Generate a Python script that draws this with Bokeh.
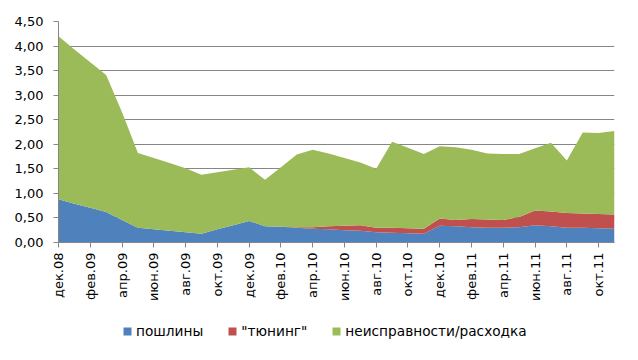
import math
from bokeh.plotting import figure
from bokeh.layouts import column
from bokeh.models import ColumnDataSource, Range1d, FixedTicker, Legend, LegendItem
from bokeh.embed import file_html
from bokeh.resources import INLINE

months = ["дек.08",
          "янв.09", "фев.09", "мар.09", "апр.09", "май.09", "июн.09",
          "июл.09", "авг.09", "сен.09", "окт.09", "ноя.09", "дек.09",
          "янв.10", "фев.10", "мар.10", "апр.10", "май.10", "июн.10",
          "июл.10", "авг.10", "сен.10", "окт.10", "ноя.10", "дек.10",
          "янв.11", "фев.11", "мар.11", "апр.11", "май.11", "июн.11",
          "июл.11", "авг.11", "сен.11", "окт.11", "ноя.11"]

poshliny = [0.88, 0.79, 0.71, 0.62, 0.46, 0.30, 0.27, 0.24, 0.21, 0.18,
            0.27, 0.35, 0.44, 0.33, 0.32, 0.30, 0.28, 0.27, 0.25, 0.24,
            0.21, 0.20, 0.19, 0.18, 0.34, 0.33, 0.31, 0.30, 0.30, 0.31,
            0.35, 0.33, 0.30, 0.30, 0.29, 0.28]
tuning = [0.00, 0.00, 0.00, 0.00, 0.00, 0.00, 0.00, 0.00, 0.00, 0.00,
          0.00, 0.00, 0.00, 0.00, 0.00, 0.01, 0.03, 0.06, 0.09, 0.11,
          0.09, 0.10, 0.10, 0.10, 0.15, 0.13, 0.17, 0.17, 0.16, 0.21,
          0.30, 0.30, 0.30, 0.29, 0.29, 0.29]
neispr = [3.32, 3.14, 2.96, 2.79, 2.19, 1.52, 1.45, 1.38, 1.30, 1.20,
          1.16, 1.13, 1.09, 0.95, 1.21, 1.48, 1.58, 1.48, 1.38, 1.28,
          1.20, 1.75, 1.64, 1.52, 1.47, 1.48, 1.41, 1.34, 1.34, 1.28,
          1.27, 1.40, 1.07, 1.65, 1.65, 1.70]

series_names = ["пошлины", "\"тюнинг\"", "неисправности/расходка"]
series_colors = ["#4F81BD", "#C0504D", "#9BBB59"]
y_ticks = [0.0, 0.5, 1.0, 1.5, 2.0, 2.5, 3.0, 3.5, 4.0, 4.5]

FONT = "DejaVu Sans"

source = ColumnDataSource(dict(
    x=list(range(len(months))),
    poshliny=poshliny, tuning=tuning, neispr=neispr,
))
stack_cols = ["poshliny", "tuning", "neispr"]

p = figure(frame_width=556, frame_height=221, output_backend="svg", toolbar_location=None,
           x_range=Range1d(0, len(months) - 1), y_range=Range1d(0, 4.5),
           min_border_left=58, min_border_right=16, min_border_top=21,
           min_border_bottom=77)
p.outline_line_color = None
p.background_fill_color = "white"
p.border_fill_color = "white"

p.varea_stack(stack_cols, x="x", color=series_colors, source=source)

# axes
p.yaxis.ticker = FixedTicker(ticks=y_ticks)
p.yaxis.major_label_overrides = {t: f"{t:.2f}".replace(".", ",") for t in y_ticks}
p.yaxis.minor_tick_line_color = None
p.yaxis.major_tick_in = 0
p.yaxis.major_tick_out = 5
p.yaxis.axis_line_color = "#868686"
p.yaxis.major_tick_line_color = "#868686"
p.yaxis.major_label_text_font = FONT
p.yaxis.major_label_text_font_size = "13px"
p.yaxis.major_label_text_color = "#000000"
p.yaxis.major_label_standoff = 10

x_ticks = list(range(0, len(months), 2))
p.xaxis.ticker = FixedTicker(ticks=x_ticks)
p.xaxis.major_label_overrides = {i: months[i] for i in x_ticks}
p.xaxis.major_label_orientation = math.pi / 2
p.xaxis.minor_tick_line_color = None
p.xaxis.major_tick_in = 0
p.xaxis.major_tick_out = 5
p.xaxis.axis_line_color = "#868686"
p.xaxis.major_tick_line_color = "#868686"
p.xaxis.major_label_text_font = FONT
p.xaxis.major_label_text_font_size = "13px"
p.xaxis.major_label_text_color = "#000000"
p.xaxis.major_label_standoff = 5

p.xgrid.visible = False
p.ygrid.ticker = FixedTicker(ticks=y_ticks)
p.ygrid.grid_line_color = "#868686"
p.ygrid.grid_line_width = 1
p.ygrid.level = "underlay"

# legend strip below the chart (its areas lie outside its y range, only the legend shows)
lg = figure(width=630, height=24, output_backend="svg", toolbar_location=None,
            x_range=Range1d(0, len(months) - 1), y_range=Range1d(10, 11),
            x_axis_type=None, y_axis_type=None,
            min_border_left=0, min_border_right=0, min_border_top=0, min_border_bottom=0)
lg.outline_line_color = None
lg.grid.visible = False
lg.background_fill_color = "white"
lg.border_fill_color = "white"
lrs = lg.varea_stack(stack_cols, x="x", color=series_colors, source=source)

legend = Legend(items=[LegendItem(label=n, renderers=[r]) for n, r in zip(series_names, lrs)],
                orientation="horizontal", location=(64, 4))
legend.border_line_color = None
legend.background_fill_alpha = 0
legend.label_text_font = FONT
legend.label_text_font_size = "13.7px"
legend.label_text_color = "#000000"
legend.glyph_width = 10
legend.glyph_height = 10
legend.label_standoff = 4
legend.spacing = 24
legend.margin = 0
legend.padding = 0
lg.add_layout(legend, "center")

layout = column(p, lg, spacing=0)

open("out.html", "w").write(file_html(layout, INLINE))
